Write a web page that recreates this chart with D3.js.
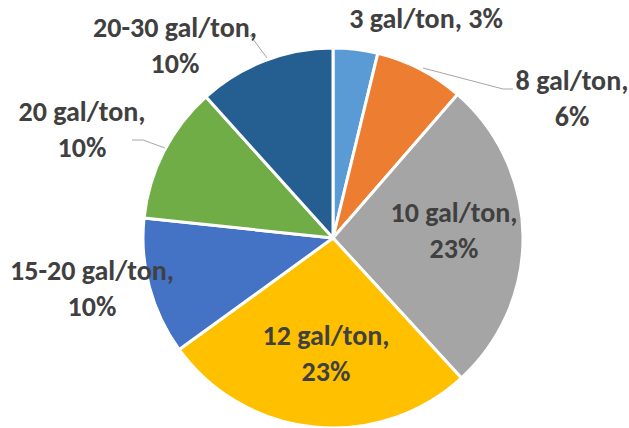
<!DOCTYPE html>
<html>
<head>
<meta charset="utf-8">
<script src="https://cdn.jsdelivr.net/npm/d3@7"></script>
<style>
  body { margin: 0; background: #fff; }
  svg text { font-family: Calibri, Carlito, Lato, sans-serif; font-weight: bold; fill: #404040; }
</style>
</head>
<body>
<svg id="svg" width="629" height="428"></svg>
<script>
const categories = ['3 gal/ton', '8 gal/ton', '10 gal/ton', '12 gal/ton', '15-20 gal/ton', '20 gal/ton', '20-30 gal/ton']
const values = [3.25, 6.5, 23, 23, 10, 10, 10]
const percentLabels = ['3%', '6%', '23%', '23%', '10%', '10%', '10%']
const colors = ['#5B9BD5', '#ED7D31', '#A5A5A5', '#FFC000', '#4472C4', '#70AD47', '#255E91']

const svg = d3.select('#svg')

const cx = 333, cy = 238
const radius = 190

const pie = d3.pie().sort(null).value(d => d.value)
const arcs = pie(categories.map((c, i) => ({ name: c, value: values[i], pct: percentLabels[i], color: colors[i] })))

const arc = d3.arc().innerRadius(0).outerRadius(radius)

const group = svg.append('g')
    .attr('transform', `translate(${cx}, ${cy})`)

group.selectAll('path')
    .data(arcs)
    .join('path')
    .attr('d', arc)
    .attr('fill', d => d.data.color)
    .attr('stroke', '#fff')
    .attr('stroke-width', 3)
    .attr('stroke-linejoin', 'round')

// label centres relative to the pie centre
const labelPos = [
    { x: 93, y: -210, lines: 1 },
    { x: 239, y: -139, lines: 2 },
    { x: 121, y: -7, lines: 2 },
    { x: -7, y: 116, lines: 2 },
    { x: -241, y: 51, lines: 2 },
    { x: -251, y: -108, lines: 2 },
    { x: -158, y: -192, lines: 2 }
]

// leader lines for the labels that sit outside
const leaders = [
    null,
    [[90, -170], [170, -149], [180, -149]],
    null, null, null,
    [[-201, -98], [-190, -98], [-168, -90]],
    [[-83, -203], [-66, -180]]
]

leaders.forEach(pts => {
    if (!pts) return
    group.append('polyline')
        .attr('points', pts.map(p => p.join(',')).join(' '))
        .attr('fill', 'none')
        .attr('stroke', '#a6a6a6')
        .attr('stroke-width', 1)
})

arcs.forEach((d, i) => {
    const p = labelPos[i]
    const t = group.append('text')
        .attr('text-anchor', 'middle')
        .attr('font-size', '28px')
        .attr('transform', `translate(${p.x}, ${p.y})`)
    if (p.lines === 1) {
        t.append('tspan').attr('x', 0).attr('y', 0).text(`${d.data.name}, ${d.data.pct}`)
    } else {
        t.append('tspan').attr('x', 0).attr('y', -9).text(`${d.data.name},`)
        t.append('tspan').attr('x', 0).attr('y', 27).text(d.data.pct)
    }
})
</script>
</body>
</html>
